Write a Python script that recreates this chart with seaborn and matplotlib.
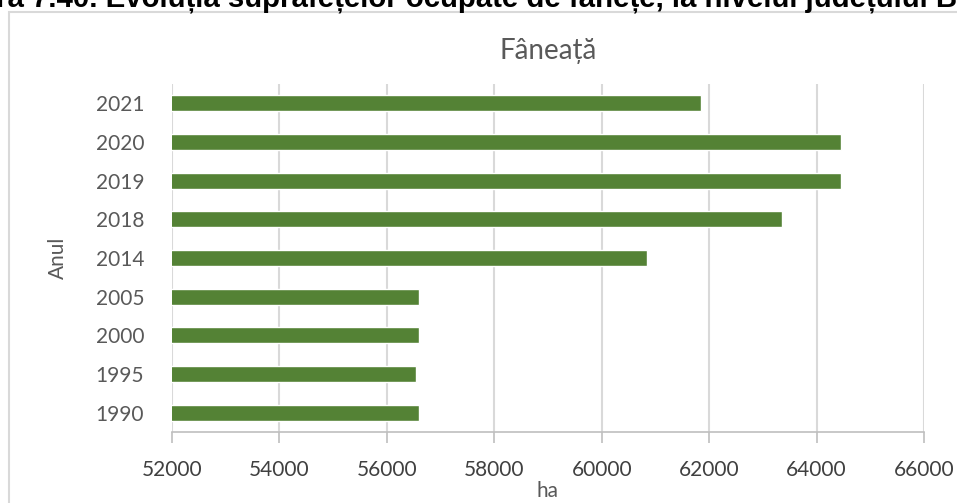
import matplotlib
matplotlib.use("Agg")
import matplotlib.pyplot as plt
import seaborn as sns
import pandas as pd
from matplotlib.patches import Rectangle

years = ["2021", "2020", "2019", "2018", "2014", "2005", "2000", "1995", "1990"]
values = [61850, 64450, 64450, 63350, 60850, 56600, 56600, 56550, 56600]
xticks = [52000, 54000, 56000, 58000, 60000, 62000, 64000, 66000]
title = "Fâneață"
xlabel = "ha"
ylabel = "Anul"
caption = "ra 7.40. Evoluția suprafețelor ocupate de fânețe, la nivelul județului B"

sns.set_theme(style="white")
plt.rcParams['font.family'] = ['Lato', 'DejaVu Sans']

W, H = 957, 503
fig = plt.figure(figsize=(W / 100, H / 100), dpi=100)

# chart frame
fig.patches.append(Rectangle((9 / W, 0 - 0.01), 1.0, 1 - 12 / H + 0.01,
                             transform=fig.transFigure, fill=False,
                             edgecolor="#d9d9d9", linewidth=1.5, zorder=0))
# cut-off caption at top (as in the reference, only its lower part is visible)
fig.text(-4 / W, 1 - 7 / H, caption, ha="left", va="baseline", fontsize=21.2,
         color="black", fontweight="bold", family=["Liberation Sans", "DejaVu Sans"])

ax = fig.add_axes([172 / W, 1 - 432 / H, (924 - 172) / W, (432 - 84) / H])
df = pd.DataFrame({"Anul": years, "ha": values})
sns.barplot(data=df, x="ha", y="Anul", order=years, color="#548235",
            saturation=1, width=0.42, ax=ax, zorder=3)

ax.set_xlim(52000, 66000)
ax.set_xticks(xticks)
ax.set_xticklabels([str(t) for t in xticks])
ax.grid(axis="x", color="#d9d9d9", linewidth=1.5, zorder=0)
ax.set_axisbelow(True)
for s in ["top", "right", "left"]:
    ax.spines[s].set_visible(False)
ax.spines["bottom"].set_color("#bfbfbf")
ax.spines["bottom"].set_linewidth(1.2)
ax.tick_params(axis="x", bottom=True, length=8, width=1.2, color="#bfbfbf",
               labelsize=15, labelcolor="#404040", pad=12)
ax.tick_params(axis="y", left=False, labelsize=15, labelcolor="#595959", pad=14)

ax.set_xlabel(xlabel, fontsize=15, color="#595959", labelpad=1)
ax.set_ylabel(ylabel, fontsize=15, color="#595959", labelpad=20)
ax.set_title(title, fontsize=20, color="#595959", pad=18)

fig.savefig("out.png", dpi=100)
